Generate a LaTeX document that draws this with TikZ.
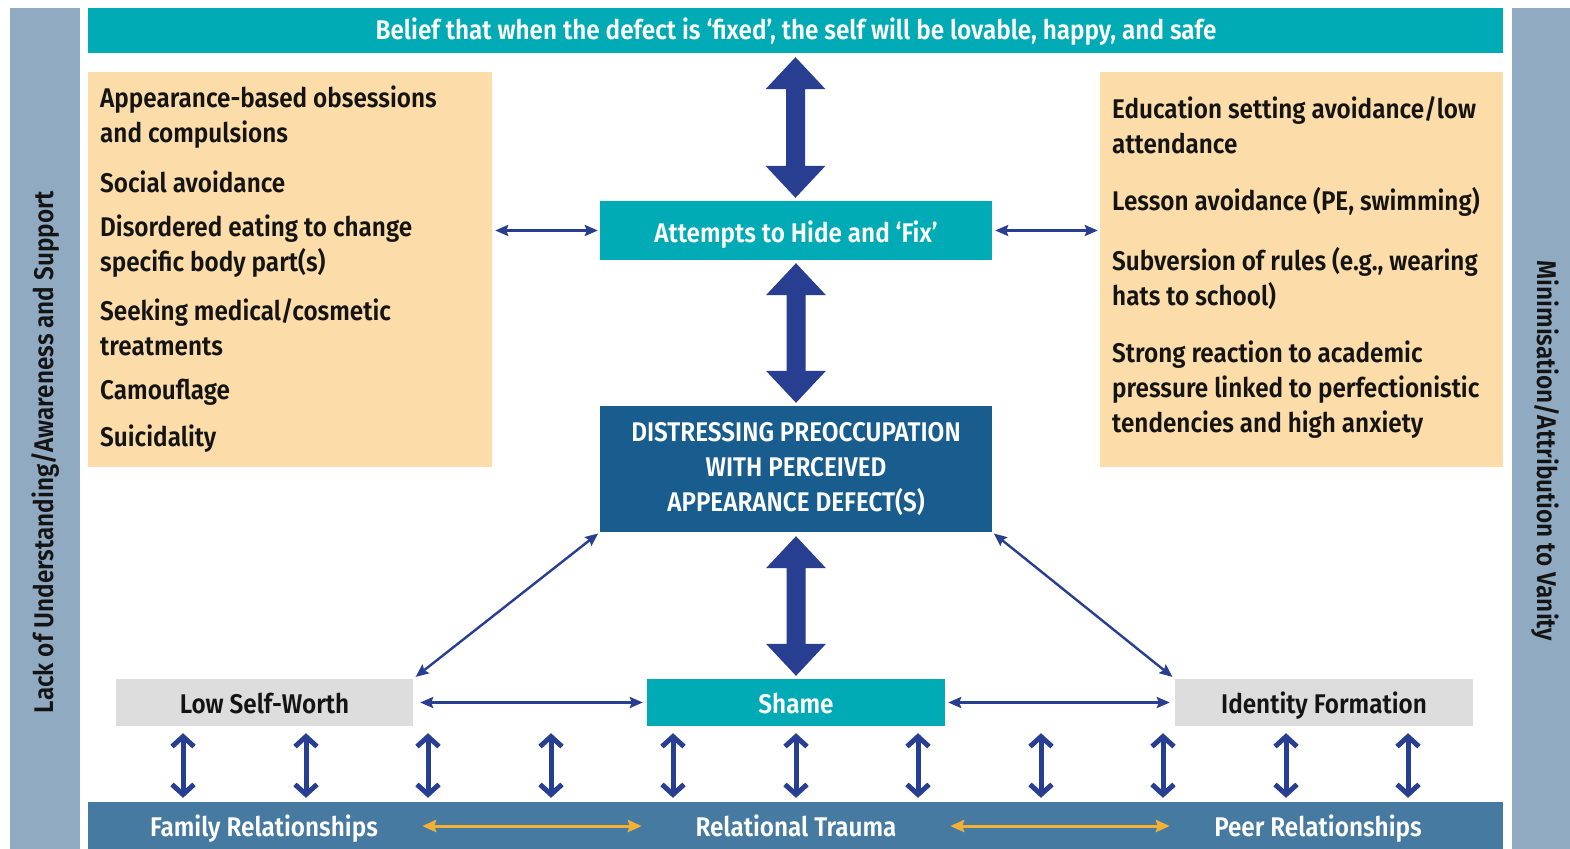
\documentclass[tikz,border=0pt]{standalone}
\usepackage{fontspec}
\setmainfont{Fira Sans}[FakeStretch=0.9, UprightFont=* SemiBold]
\usetikzlibrary{arrows.meta,calc}

\definecolor{sidebar}{RGB}{143,170,193}
\definecolor{tealbox}{RGB}{0,171,182}
\definecolor{peach}{RGB}{252,220,168}
\definecolor{deepblue}{RGB}{24,93,141}
\definecolor{barblue}{RGB}{70,122,160}
\definecolor{greybox}{RGB}{221,221,221}
\definecolor{arrowblue}{RGB}{40,62,145}
\definecolor{gold}{RGB}{242,177,52}
\definecolor{ink}{RGB}{20,20,20}

% fat double-headed vertical arrow between two points
\newcommand\fatarrow[2]{%
  \fill[arrowblue] let \p1=(#1), \p2=(#2) in
    (\x1,\y1) -- (\x1+30pt,\y1-32pt) -- (\x1+9.5pt,\y1-32pt) -- (\x1+9.5pt,\y2+32pt)
    -- (\x1+30pt,\y2+32pt) -- (\x1,\y2) -- (\x1-30pt,\y2+32pt) -- (\x1-9.5pt,\y2+32pt)
    -- (\x1-9.5pt,\y1-32pt) -- (\x1-30pt,\y1-32pt) -- cycle;}

\tikzset{
  box/.style={rectangle, inner sep=0pt, anchor=center},
  txt/.style={font=\fontsize{27}{35}\selectfont},
  item/.style={txt, text=ink, anchor=west, inner sep=0pt, align=left},
  thin/.style={draw=arrowblue, line width=2.4pt,
    {Stealth[length=13pt,width=11pt,inset=2pt]}-{Stealth[length=13pt,width=11pt,inset=2pt]}},
  goldarrow/.style={draw=gold, line width=3pt,
    {Stealth[length=14pt,width=12pt,inset=2pt]}-{Stealth[length=14pt,width=12pt,inset=2pt]}},
  updown/.style={draw=arrowblue, line width=5pt,
    {Straight Barb[length=10pt,width=22pt]}-{Straight Barb[length=10pt,width=22pt]}},
  bartext/.style={txt, text=white, anchor=base, inner sep=0pt},
}

\begin{document}
\begin{tikzpicture}[x=1pt,y=-1pt]
\useasboundingbox (0,0) rectangle (1570,848);
\fill[white] (0,0) rectangle (1570,848);

% side bars
\node[box, fill=sidebar, minimum width=70pt, minimum height=842pt] (leftside) at (45,429) {};
\node[txt, text=ink, rotate=90] (lefttext) at (45,452) {Lack of Understanding/Awareness and Support};
\node[box, fill=sidebar, minimum width=60pt, minimum height=842pt] (rightside) at (1542,429) {};
\node[txt, text=ink, rotate=-90] (righttext) at (1545,451) {Minimisation/Attribution to Vanity};

% top belief bar
\node[box, fill=tealbox, minimum width=1415pt, minimum height=45pt] (topbar) at (795.5,30.5) {};
\node[bartext] (belief) at (796,40) {Belief that when the defect is ‘fixed’, the self will be lovable, happy, and safe};

% behaviour boxes
\node[box, fill=peach, minimum width=404pt, minimum height=395pt] (leftbox) at (290,269.5) {};
\node[box, fill=peach, minimum width=403pt, minimum height=395pt] (rightbox) at (1301.5,269.5) {};

\node[item] (l1) at (100,117.5) {Appearance-based obsessions\\and compulsions};
\node[item] (l2) at (100,182) {Social avoidance};
\node[item] (l3) at (100,246.5) {Disordered eating to change\\specific body part(s)};
\node[item] (l4) at (100,327.5) {Seeking medical/cosmetic\\treatments};
\node[item] (l5) at (100,392) {Camouflage};
\node[item] (l6) at (100,439) {Suicidality};

\node[item] (r1) at (1112,125.5) {Education setting avoidance/low\\attendance};
\node[item] (r2) at (1112,202) {Lesson avoidance (PE, swimming)};
\node[item] (r3) at (1112,278.5) {Subversion of rules (e.g., wearing\\hats to school)};
\node[item] (r4) at (1112,390) {Strong reaction to academic\\pressure linked to perfectionistic\\tendencies and high anxiety};

% central column
\node[box, fill=tealbox, minimum width=392pt, minimum height=59pt] (attempt) at (796,230.5) {};
\node[bartext] (attempttext) at (796,242) {Attempts to Hide and ‘Fix’};
\node[box, fill=deepblue, minimum width=392pt, minimum height=126pt, txt, text=white, align=center] (distress) at (796,469)
  {DISTRESSING PREOCCUPATION\\WITH PERCEIVED\\APPEARANCE DEFECT(S)};

% lower row
\node[box, fill=greybox, minimum width=297pt, minimum height=47pt] (lsw) at (264.5,702.5) {};
\node[box, fill=tealbox, minimum width=298pt, minimum height=47pt] (shame) at (796,702.5) {};
\node[box, fill=greybox, minimum width=298pt, minimum height=47pt] (idf) at (1324,702.5) {};
\node[bartext, text=ink] (lswtext) at (264.5,713) {Low Self-Worth};
\node[bartext] (shametext) at (796,713) {Shame};
\node[bartext, text=ink] (idftext) at (1324,713) {Identity Formation};

% relationship bar
\node[box, fill=barblue, minimum width=1415pt, minimum height=48pt] (bottom) at (795.5,826) {};
\node[bartext] (family) at (264,836) {Family Relationships};
\node[bartext] (trauma) at (796,836) {Relational Trauma};
\node[bartext] (peer) at (1318,836) {Peer Relationships};

% fat arrows
\fatarrow{[yshift=-4pt]topbar.south}{[yshift=3pt]attempt.north}
\fatarrow{[yshift=-3pt]attempt.south}{[yshift=3pt]distress.north}
\fatarrow{[yshift=-4pt]distress.south}{[yshift=3pt]shame.north}

% thin connectors
\draw[thin, shorten <=3pt, shorten >=2pt] (leftbox.east |- attempt.west) -- (attempt.west);
\draw[thin, shorten <=3pt, shorten >=2pt] (attempt.east) -- (rightbox.west |- attempt.east);
\draw[thin, shorten <=2pt, shorten >=3pt] (distress.south west) -- (lsw.north east);
\draw[thin, shorten <=2pt, shorten >=3pt] (distress.south east) -- (idf.north west);
\draw[thin, shorten <=7pt, shorten >=4pt] (lsw.east) -- (shame.west);
\draw[thin, shorten <=3pt, shorten >=5pt] (shame.east) -- (idf.west);

\draw[goldarrow, shorten <=9pt, shorten >=5pt] (lsw.east |- bottom.center) -- (shame.west |- bottom.center);
\draw[goldarrow, shorten <=5pt, shorten >=5pt] (shame.east |- bottom.center) -- (idf.west |- bottom.center);

% links down to the relationship bar
\foreach \xx [count=\i] in {183,306,428,551,673,796,918,1041,1163,1286,1408} {
  \coordinate (col\i) at (\xx,760);
  \draw[updown, shorten <=7pt, shorten >=4pt] (col\i |- shame.south) -- (col\i |- bottom.north);
}
\end{tikzpicture}
\end{document}
